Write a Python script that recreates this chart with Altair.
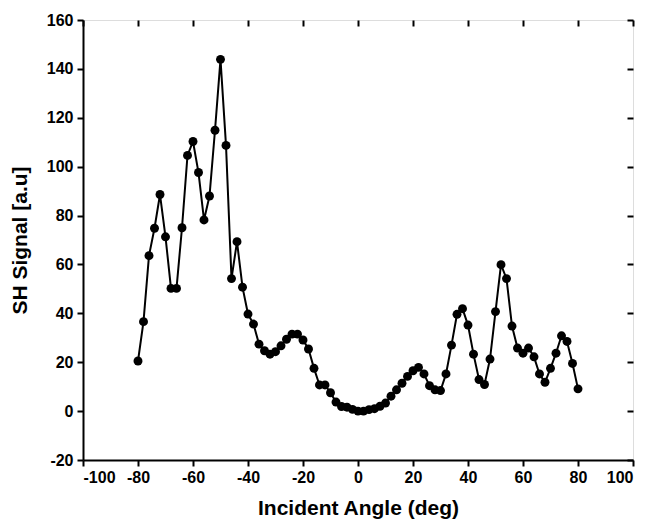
import altair as alt
import pandas as pd

angles = list(range(-80, 82, 2))
signal = [
    20.5, 36.6, 63.6, 74.8, 88.6, 71.3, 50.2, 50.2, 75.0, 104.6,
    110.3, 97.6, 78.2, 88.0, 114.9, 143.9, 108.7, 54.2, 69.3, 50.7,
    39.7, 35.6, 27.4, 24.7, 23.3, 24.3, 26.7, 29.4, 31.5, 31.5,
    29.1, 25.4, 17.5, 10.7, 10.7, 7.5, 3.7, 1.9, 1.6, 0.7,
    0.0, 0.0, 0.6, 1.0, 2.0, 3.3, 6.1, 8.7, 11.4, 14.2,
    16.5, 17.9, 15.2, 10.4, 8.7, 8.4, 15.2, 27.0, 39.6, 41.9,
    35.2, 23.3, 12.9, 10.9, 21.3, 40.7, 59.9, 54.2, 34.8, 25.8,
    23.7, 25.8, 22.2, 15.2, 11.8, 17.5, 23.7, 30.8, 28.5, 19.5,
    9.1,
]
x_ticks = list(range(-100, 101, 20))
y_ticks = list(range(-20, 161, 20))

df = pd.DataFrame({"angle": angles, "signal": signal})

FONT = "Liberation Sans"
xscale = alt.Scale(domain=[-100, 100], nice=False, zero=False)
yscale = alt.Scale(domain=[-20, 160], nice=False, zero=False)
LABEL_EXPR = "datum.value < 0 ? '-' + abs(datum.value) : '' + datum.value"

common_axis = dict(
    grid=False, domainColor="black", domainWidth=2, tickColor="black",
    tickWidth=2, tickSize=6, labelFont=FONT, labelFontWeight="bold",
    labelFontSize=16, labelColor="black", titleFont=FONT,
    titleFontWeight="bold", titleFontSize=21, titleColor="black",
    labelExpr=LABEL_EXPR,
)

base = alt.Chart(df)

line = base.mark_line(color="black", strokeWidth=2).encode(
    x=alt.X("angle:Q", scale=xscale,
            axis=alt.Axis(orient="bottom", values=x_ticks,
                          title="Incident Angle (deg)", labelPadding=3,
                          titlePadding=12, **common_axis)),
    y=alt.Y("signal:Q", scale=yscale,
            axis=alt.Axis(orient="left", values=y_ticks,
                          title="SH Signal [a.u]", labelPadding=4,
                          titlePadding=16, **common_axis)),
)
points = base.mark_circle(color="black", size=80, opacity=1).encode(
    x=alt.X("angle:Q", scale=xscale),
    y=alt.Y("signal:Q", scale=yscale),
)
main = alt.layer(line, points)

mirror_axis = dict(
    grid=False, domain=False, labels=False, title=None, tickColor="black",
    tickWidth=2, tickSize=6, offset=-6,
)
mirror = base.mark_point(opacity=0).encode(
    x=alt.X("angle:Q", scale=xscale,
            axis=alt.Axis(orient="top", values=x_ticks, **mirror_axis)),
    y=alt.Y("signal:Q", scale=yscale,
            axis=alt.Axis(orient="right", values=y_ticks, **mirror_axis)),
)

chart = (
    alt.layer(main, mirror)
    .resolve_scale(x="independent", y="independent")
    .properties(width=550, height=440,
                padding={"left": 75, "top": 12, "right": 7, "bottom": 59},
                autosize=alt.AutoSizeParams(type="none"))
    .configure_view(stroke="black", strokeWidth=2)
    .configure(background="white")
)

chart.save("out.html", embed_options={"renderer": "svg", "actions": False})
